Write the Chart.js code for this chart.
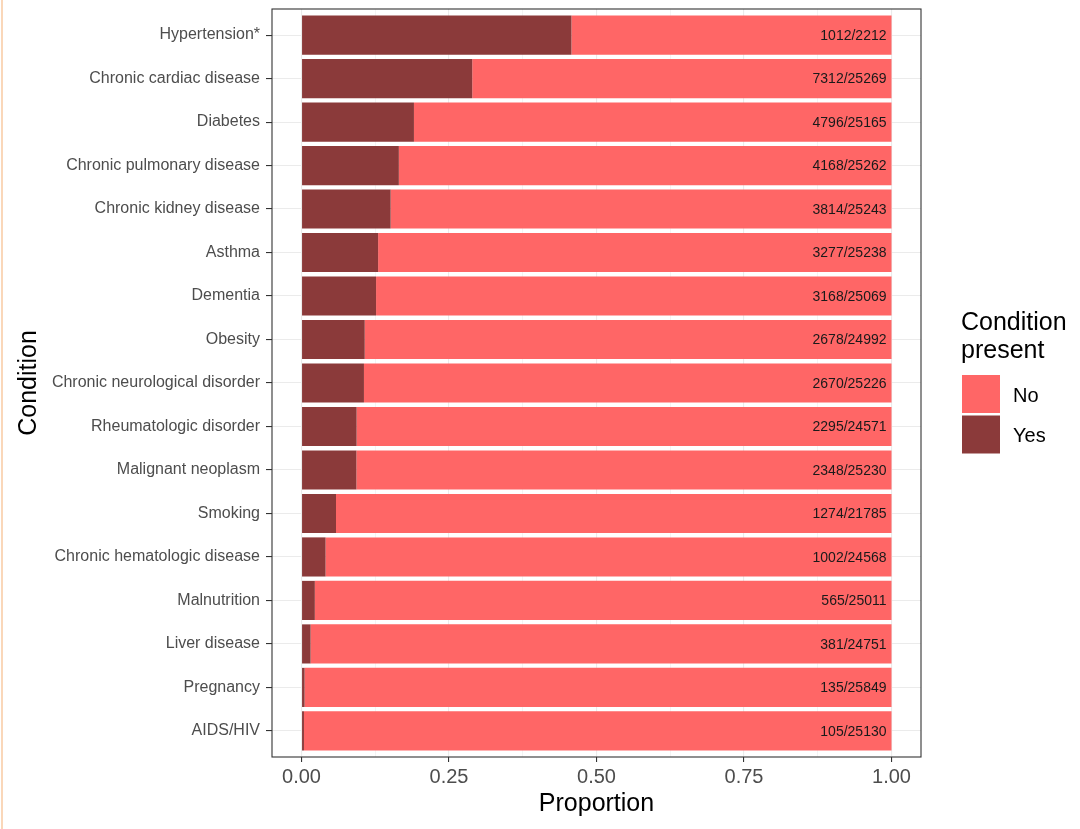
<!DOCTYPE html>
<html lang="en">
<head>
<meta charset="utf-8">
<title>Condition present</title>
<script src="https://cdn.jsdelivr.net/npm/chart.js@4.4.1/dist/chart.umd.min.js"></script>
<style>
  html, body { margin: 0; padding: 0; background: #fff; }
  #wrap { position: relative; width: 1080px; height: 829px; }
  #edge { position: absolute; left: 1px; top: 0; width: 2px; height: 829px; background: #FAD7B9; }
</style>
</head>
<body>
<div id="wrap">
  <canvas id="conditionChart"></canvas>
  <div id="edge"></div>
</div>
<script>
// ============================================================
// DONNÉES - Comorbidités (n avec condition / N total)
// ============================================================

const categories = [
  'Hypertension*', 'Chronic cardiac disease', 'Diabetes', 'Chronic pulmonary disease',
  'Chronic kidney disease', 'Asthma', 'Dementia', 'Obesity', 'Chronic neurological disorder',
  'Rheumatologic disorder', 'Malignant neoplasm', 'Smoking', 'Chronic hematologic disease',
  'Malnutrition', 'Liver disease', 'Pregnancy', 'AIDS/HIV'
];
const yesCounts = [1012, 7312, 4796, 4168, 3814, 3277, 3168, 2678, 2670, 2295, 2348, 1274, 1002, 565, 381, 135, 105];
const totalCounts = [2212, 25269, 25165, 25262, 25243, 25238, 25069, 24992, 25226, 24571, 25230, 21785, 24568, 25011, 24751, 25849, 25130];

const xTickValues = [0, 0.25, 0.5, 0.75, 1];
const xTickLabels = ['0.00', '0.25', '0.50', '0.75', '1.00'];
const xMinorValues = [0.125, 0.375, 0.625, 0.875];

// Proportions dérivées des effectifs
const yesShare = yesCounts.map((n, i) => n / totalCounts[i]);
const noShare = yesShare.map(p => 1 - p);

// ============================================================
// GRAPHIQUE - barres horizontales empilées (Chart.js)
// ============================================================

document.addEventListener("DOMContentLoaded", () => {
  const canvas = document.getElementById("conditionChart");
  if (!canvas) return;

  if (typeof Chart === "undefined") {
    console.error("Chart.js n'est pas chargé (Chart is undefined).");
    return;
  }

  const FONT = '"Liberation Sans", Arial, Helvetica, sans-serif';
  const Y_EXPAND = 0.6;   // marge discrète façon ggplot
  Chart.defaults.font.family = FONT;

  // --- Plugin : marge de l'axe, étiquettes n/N, cadre, légende ---
  const panelExtras = {
    id: 'panelExtras',
    afterLayout(chart) {
      const y = chart.scales.y;
      y._startValue = y.min - Y_EXPAND;
      y._valueRange = y.max - y.min + 2 * Y_EXPAND;
    },
    afterDatasetsDraw(chart) {
      const { ctx, chartArea: a, scales: { x, y } } = chart;
      ctx.save();
      ctx.font = '14px ' + FONT;
      ctx.fillStyle = '#1A1A1A';
      ctx.textAlign = 'right';
      ctx.textBaseline = 'middle';
      categories.forEach((c, i) => {
        ctx.fillText(yesCounts[i] + '/' + totalCounts[i], x.getPixelForValue(1) - 5, y.getPixelForValue(i) + 1);
      });

      // cadre du panneau (theme_bw)
      ctx.strokeStyle = '#333333';
      ctx.lineWidth = 1.1;
      ctx.strokeRect(a.left, a.top, a.right - a.left, a.bottom - a.top);
      ctx.restore();
    },
    afterDraw(chart) {
      const { ctx, chartArea: a } = chart;
      const lx = a.right + 40;
      const mid = (a.top + a.bottom) / 2;
      ctx.save();
      ctx.fillStyle = '#000';
      ctx.textAlign = 'left';
      ctx.textBaseline = 'alphabetic';
      ctx.font = '25px ' + FONT;
      ctx.fillText('Condition', lx, mid - 53);
      ctx.fillText('present', lx, mid - 25);

      // No puis Yes (ordre inverse des datasets)
      const items = chart.data.datasets.slice().reverse();
      ctx.font = '20px ' + FONT;
      items.forEach((ds, k) => {
        const top = mid - 8 + k * 40.5;
        ctx.fillStyle = ds.backgroundColor;
        ctx.fillRect(lx + 1, top, 38, 38);
        ctx.fillStyle = '#000';
        ctx.fillText(ds.label, lx + 52, top + 26.5);
      });
      ctx.restore();
    }
  };

  const isMajor = v => xTickValues.indexOf(v) >= 0;

  new Chart(canvas, {
    type: "bar",
    data: {
      labels: categories,
      datasets: [
        { label: 'Yes', data: yesShare, backgroundColor: '#8B3A3A', barPercentage: 0.9, categoryPercentage: 1 },
        { label: 'No', data: noShare, backgroundColor: '#FF6666', barPercentage: 0.9, categoryPercentage: 1 }
      ]
    },
    options: {
      indexAxis: 'y',
      responsive: true,
      maintainAspectRatio: false, // IMPORTANT pour respecter la hauteur CSS
      animation: false,
      layout: { padding: { left: 0, right: 159, top: 9, bottom: 0 } },
      plugins: {
        legend: { display: false },
        tooltip: { enabled: false }
      },
      scales: {
        x: {
          type: 'linear',
          stacked: true,
          min: -0.05,
          max: 1.05,
          afterBuildTicks: s => {
            s.ticks = xTickValues.concat(xMinorValues).sort((p, q) => p - q).map(v => ({ value: v }));
          },
          afterFit: s => {
            s.height = 72;
            s.paddingLeft = 0;
            s.paddingRight = 0;
          },
          ticks: {
            autoSkip: false,
            maxRotation: 0,
            padding: 3,
            color: '#4D4D4D',
            font: { size: 20 },
            callback: v => (isMajor(v) ? xTickLabels[xTickValues.indexOf(v)] : '')
          },
          grid: {
            color: '#EBEBEB',
            lineWidth: c => (c.tick && isMajor(c.tick.value) ? 1.1 : 0.55),
            tickColor: c => (c.tick && isMajor(c.tick.value) ? '#333333' : 'rgba(0,0,0,0)'),
            tickLength: 5,
            tickWidth: 1.1
          },
          border: { display: false },
          title: {
            display: true,
            text: 'Proportion',
            color: '#000',
            font: { size: 25 },
            padding: { top: 0, bottom: 10 }
          }
        },
        y: {
          type: 'category',
          stacked: true,
          afterFit: s => {
            s.width = 272;
            s.paddingTop = 0;
            s.paddingBottom = 0;
          },
          ticks: {
            autoSkip: false,
            padding: 6,
            color: '#4D4D4D',
            font: { size: 16 }
          },
          grid: {
            offset: false,
            color: '#EBEBEB',
            lineWidth: 1.1,
            tickColor: '#333333',
            tickLength: 6,
            tickWidth: 1.1
          },
          border: { display: false },
          title: {
            display: true,
            text: 'Condition',
            color: '#000',
            font: { size: 25 },
            padding: { top: 14, bottom: 0 }
          }
        }
      }
    },
    plugins: [panelExtras]
  });
});
</script>
</body>
</html>
